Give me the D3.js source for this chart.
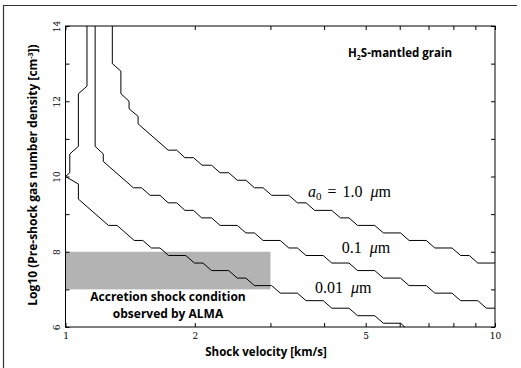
<!DOCTYPE html>
<html>
<head>
<meta charset="utf-8">
<script src="https://cdn.jsdelivr.net/npm/d3@7/dist/d3.min.js"></script>
<style>
  body { margin: 0; background: #fff; }
  .bold { font-family: 'Open Sans', sans-serif; font-weight: 700; fill: #000; }
  .math { font-family: 'Liberation Serif', serif; fill: #000; }
</style>
</head>
<body>
<div id="chart"></div>
<script>
// contour vertices: [log10(v / km s^-1), log10(n / cm^-3)]
const grain1um = [
  [0.109, 14], [0.109, 13.0], [0.129, 12.8], [0.129, 12.2], [0.148, 12.0], [0.148, 11.8],
  [0.169, 11.6], [0.169, 11.4], [0.239, 10.7], [0.259, 10.7], [0.278, 10.5], [0.298, 10.5],
  [0.318, 10.3], [0.34, 10.3], [0.36, 10.1], [0.38, 10.1], [0.40, 9.9], [0.42, 9.9],
  [0.44, 9.7], [0.46, 9.7], [0.48, 9.5], [0.52, 9.5], [0.54, 9.3], [0.56, 9.3],
  [0.58, 9.1], [0.62, 9.1], [0.64, 8.9], [0.66, 8.9], [0.68, 8.7], [0.72, 8.7],
  [0.74, 8.5], [0.78, 8.5], [0.80, 8.3], [0.84, 8.3], [0.86, 8.1], [0.90, 8.1],
  [0.92, 7.9], [0.94, 7.9], [0.96, 7.7], [1.0, 7.7]
];
const grain01um = [
  [0.069, 14], [0.069, 10.8], [0.088, 10.6], [0.088, 10.4], [0.158, 9.7], [0.177, 9.7],
  [0.197, 9.5], [0.22, 9.5], [0.239, 9.3], [0.259, 9.3], [0.278, 9.1], [0.298, 9.1],
  [0.317, 8.9], [0.34, 8.9], [0.36, 8.7], [0.40, 8.7], [0.42, 8.5], [0.44, 8.5],
  [0.46, 8.3], [0.50, 8.3], [0.52, 8.1], [0.54, 8.1], [0.56, 7.9], [0.60, 7.9],
  [0.62, 7.7], [0.66, 7.7], [0.68, 7.5], [0.72, 7.5], [0.74, 7.3], [0.78, 7.3],
  [0.80, 7.1], [0.84, 7.1], [0.86, 6.9], [0.90, 6.9], [0.92, 6.7], [0.96, 6.7],
  [0.98, 6.5], [1.0, 6.5]
];
const grain001um = [
  [0.05, 14], [0.05, 12.4], [0.03, 12.2], [0.03, 10.8], [0.01, 10.6], [0.01, 10.1],
  [0.0, 10.0], [0.03, 9.8], [0.03, 9.4], [0.10, 8.7], [0.12, 8.7], [0.16, 8.3],
  [0.18, 8.3], [0.20, 8.1], [0.22, 8.1], [0.24, 7.9], [0.28, 7.9], [0.30, 7.7],
  [0.32, 7.7], [0.34, 7.5], [0.38, 7.5], [0.40, 7.3], [0.42, 7.3], [0.44, 7.1],
  [0.48, 7.1], [0.50, 6.9], [0.54, 6.9], [0.56, 6.7], [0.60, 6.7], [0.62, 6.5],
  [0.66, 6.5], [0.68, 6.3], [0.72, 6.3], [0.74, 6.1], [0.78, 6.1], [0.79, 6.0]
];

// ALMA accretion shock box
const boxVelocity = [1, 3];
const boxDensity = [7, 8];

const xTicks = [1, 2, 3, 4, 5, 6, 7, 8, 9, 10];
const xLabels = [1, 2, 5, 10];
const yTicks = [6, 7, 8, 9, 10, 11, 12, 13, 14];
const yLabels = [6, 8, 10, 12, 14];

const W = 521, H = 368;
const margin = { top: 26, right: 26, bottom: 41, left: 65.5 };

const svg = d3.select('#chart').append('svg')
  .attr('width', W)
  .attr('height', H);

// outer frame (top and left only)
svg.append('path')
  .attr('d', `M3.5,${H}V5.5H517`)
  .attr('fill', 'none')
  .attr('stroke', '#333')
  .attr('stroke-width', 1.2);

const x = d3.scaleLog().domain([1, 10]).range([margin.left, W - margin.right]);
const y = d3.scaleLinear().domain([6, 14]).range([H - margin.bottom, margin.top]);

// shaded region
svg.append('rect')
  .attr('x', x(boxVelocity[0]))
  .attr('y', y(boxDensity[1]))
  .attr('width', x(boxVelocity[1]) - x(boxVelocity[0]))
  .attr('height', y(boxDensity[0]) - y(boxDensity[1]))
  .attr('fill', '#b3b3b3');

const line = d3.line()
  .x(d => x(10 ** d[0]))
  .y(d => y(d[1]));

[grain1um, grain01um, grain001um].forEach(c => {
  svg.append('path')
    .datum(c)
    .attr('fill', 'none')
    .attr('stroke', '#000')
    .attr('stroke-width', 1)
    .attr('d', line);
});

// axes, ticks inward
const styleAxis = g => {
  g.select('.domain').remove();
  g.selectAll('.tick line').attr('stroke', '#000');
  g.attr('font-family', "'DejaVu Serif', serif").attr('font-size', 9);
};

svg.append('g')
  .attr('transform', `translate(0,${y(6)})`)
  .call(d3.axisBottom(x).tickValues(xTicks).tickSize(-4).tickPadding(5.5)
    .tickFormat(d => xLabels.includes(d) ? d : ''))
  .call(styleAxis);

svg.append('g')
  .attr('transform', `translate(0,${y(14)})`)
  .call(d3.axisTop(x).tickValues(xTicks).tickSize(-4).tickFormat(''))
  .call(styleAxis);

svg.append('g')
  .attr('transform', `translate(${x(10)},0)`)
  .call(d3.axisRight(y).tickValues(yTicks).tickSize(-4).tickFormat(''))
  .call(styleAxis);

svg.append('g')
  .attr('transform', `translate(${x(1)},0)`)
  .call(d3.axisLeft(y).tickValues(yTicks).tickSize(-4)
    .tickFormat(d => yLabels.includes(d) ? d : ''))
  .call(styleAxis)
  .call(g => g.selectAll('.tick text')
    .attr('transform', 'rotate(-90)')
    .attr('x', 0)
    .attr('y', -5.5)
    .attr('dy', 0)
    .attr('text-anchor', 'middle'));

// plot frame
svg.append('rect')
  .attr('x', x(1))
  .attr('y', y(14))
  .attr('width', x(10) - x(1))
  .attr('height', y(6) - y(14))
  .attr('fill', 'none')
  .attr('stroke', '#000')
  .attr('stroke-width', 1);

// axis titles
svg.append('text')
  .attr('class', 'bold')
  .attr('x', 266)
  .attr('y', 356)
  .attr('text-anchor', 'middle')
  .attr('font-size', 11.5)
  .text('Shock velocity [km/s]');

const yTitle = svg.append('text')
  .attr('class', 'bold')
  .attr('transform', 'translate(37,175) rotate(-90)')
  .attr('text-anchor', 'middle')
  .attr('font-size', 12);
yTitle.append('tspan').text('Log10 (Pre-shock gas number density [cm');
yTitle.append('tspan').attr('font-size', 7).attr('dy', -4).text('-3');
yTitle.append('tspan').attr('dy', 4).text('])');

// grain label
const grain = svg.append('text')
  .attr('class', 'bold')
  .attr('x', 348)
  .attr('y', 57)
  .attr('font-size', 11.5);
grain.append('tspan').text('H');
grain.append('tspan').attr('font-size', 7).attr('dy', 2.5).text('2');
grain.append('tspan').attr('dy', -2.5).text('S-mantled grain');

// ALMA box label, two lines
[['Accretion shock condition', 301], ['observed by ALMA', 317.5]].forEach(([t, py]) => {
  svg.append('text')
    .attr('class', 'bold')
    .attr('x', 168)
    .attr('y', py)
    .attr('text-anchor', 'middle')
    .attr('font-size', 12)
    .text(t);
});

// grain size labels
const a0 = svg.append('text')
  .attr('class', 'math')
  .attr('x', 308)
  .attr('y', 197)
  .attr('font-size', 16);
a0.append('tspan').attr('font-style', 'italic').text('a');
a0.append('tspan').attr('font-size', 11).attr('dy', 3).text('0');
a0.append('tspan').attr('dy', -3).attr('dx', 6).text('=');
a0.append('tspan').attr('dx', 6).text('1.0\u2002');
a0.append('tspan').attr('font-style', 'italic').text('μ');
a0.append('tspan').text('m');

[['0.1', 341.7, 253], ['0.01', 315, 292.5]].forEach(([t, px, py]) => {
  const s = svg.append('text')
    .attr('class', 'math')
    .attr('x', px)
    .attr('y', py)
    .attr('font-size', 16);
  s.append('tspan').text(t + '\u2002');
  s.append('tspan').attr('font-style', 'italic').text('μ');
  s.append('tspan').text('m');
});
</script>
</body>
</html>
